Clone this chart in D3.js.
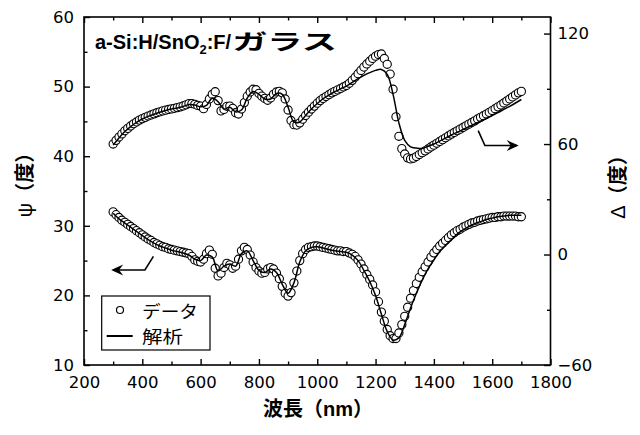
<!DOCTYPE html>
<html><head><meta charset="utf-8">
<script src="https://cdn.jsdelivr.net/npm/d3@7"></script>
<style>
html,body{margin:0;padding:0;background:#fff;}
svg{display:block;}
</style></head>
<body>
<svg id="chart" width="640" height="435"></svg>
<script>
// ---------- data ----------
const wavelength = [300,310,320,330,340,350,360,370,380,390,400,410,420,430,440,450,460,470,480,490,
500,510,520,530,540,550,560,570,580,590,600,610,620,630,640,650,660,670,680,690,
700,710,720,730,740,750,760,770,780,790,800,810,820,830,840,850,860,870,880,890,
900,910,920,930,940,950,960,970,980,990,1000,1010,1020,1030,1040,1050,1060,1070,1080,1090,
1100,1110,1120,1130,1140,1150,1160,1170,1180,1190,1200,1210,1220,1230,1240,1250,1260,1270,1280,1290,
1300,1310,1320,1330,1340,1350,1360,1370,1380,1390,1400,1410,1420,1430,1440,1450,1460,1470,1480,1490,
1500,1510,1520,1530,1540,1550,1560,1570,1580,1590,1600,1610,1620,1630,1640,1650,1660,1670,1680,1690,1700];

const deltaData = [60.0,62.0,63.8,65.5,67.2,68.5,69.8,71.0,72.0,73.0,
73.8,74.5,75.2,75.8,76.4,77.0,77.5,78.0,78.4,78.8,
79.1,79.4,79.8,80.2,80.7,81.3,82.0,82.0,81.6,81.0,
80.6,79.2,81.5,84.5,87.0,88.4,83.6,78.0,78.8,80.5,
80.6,79.4,77.0,76.3,79.0,82.5,86.0,88.3,89.8,89.5,
87.5,86.0,84.8,83.8,85.0,87.0,88.3,88.6,87.8,84.5,
78.5,72.8,70.5,70.3,71.5,73.5,75.5,77.3,79.0,80.6,
82.2,83.6,84.8,85.8,86.8,87.8,88.6,89.4,90.2,91.0,
91.8,93.0,94.6,96.3,98.2,100.0,101.8,103.5,105.0,106.5,
107.7,108.6,108.9,106.5,103.3,98.0,89.8,74.8,64.2,57.5,
54.6,52.5,51.9,52.3,53.2,54.3,55.3,56.3,57.3,58.4,
59.4,60.4,61.4,62.4,63.4,64.4,65.4,66.3,67.2,68.1,
69.0,69.9,70.8,71.7,72.6,73.6,74.5,75.4,76.3,77.2,
78.2,79.2,80.2,81.2,82.3,83.4,84.5,85.6,86.7,87.8,
88.6];

const psiData = [32.0,31.6,31.2,30.8,30.5,30.2,29.9,29.6,29.3,29.0,
28.7,28.4,28.1,27.9,27.6,27.4,27.2,27.0,26.9,26.7,
26.6,26.5,26.4,26.3,26.2,26.1,26.0,25.6,25.1,24.9,
24.8,25.2,26.0,26.5,25.9,23.9,22.8,23.2,24.0,24.6,
24.4,23.9,24.2,25.2,26.4,26.9,26.6,25.8,24.8,24.0,
23.5,23.2,23.3,23.8,24.0,23.8,23.2,22.4,21.3,20.3,
19.9,20.4,21.8,23.5,25.0,26.0,26.6,26.9,27.0,27.1,
27.1,27.0,26.9,26.8,26.7,26.6,26.5,26.4,26.4,26.3,
26.3,26.1,25.9,25.6,25.1,24.5,23.8,23.0,22.3,21.5,
20.5,19.1,17.6,16.3,15.1,14.2,13.8,13.8,14.6,15.8,
17.0,18.3,19.6,20.7,21.7,22.6,23.4,24.1,24.8,25.5,
26.1,26.6,27.1,27.5,27.9,28.3,28.7,29.0,29.3,29.5,
29.8,30.0,30.2,30.4,30.5,30.7,30.8,30.9,31.0,31.1,
31.2,31.2,31.3,31.3,31.4,31.4,31.4,31.4,31.4,31.3,
31.3];

const fitWavelength = [300,320,340,360,380,400,420,440,460,480,500,520,540,560,580,
600,620,640,660,680,700,720,740,760,780,800,820,840,860,880,
900,920,940,960,980,1000,1020,1040,1060,1080,1100,1120,1140,1160,1180,
1200,1220,1240,1260,1280,1300,1320,1340,1360,1380,1400,1420,1440,1460,1480,
1500,1520,1540,1560,1580,1600,1620,1640,1660,1680,1700];

const deltaFit = [59.5,63.3,66.8,69.5,71.8,73.6,75.0,76.2,77.3,78.2,79.0,79.6,80.4,81.5,81.2,
80.2,81.0,85.0,83.0,79.0,80.0,77.5,78.5,85.0,88.5,87.0,84.5,84.5,87.5,87.0,
80.0,72.0,72.0,75.5,79.0,82.0,84.6,86.6,88.4,90.0,91.5,93.5,95.5,97.3,98.8,
100.0,100.5,97.8,87.0,71.5,62.0,58.5,57.8,57.6,58.8,60.0,61.6,63.2,64.9,66.4,
67.9,69.4,70.9,72.4,73.9,75.5,77.1,78.8,80.5,82.3,84.2];

const psiFit = [31.8,31.0,30.4,29.8,29.2,28.6,28.0,27.5,27.1,26.8,26.5,26.3,26.1,25.8,25.2,
25.0,25.8,25.5,23.5,24.2,24.5,24.2,26.0,26.4,25.0,23.6,23.3,23.8,23.3,21.6,
20.3,21.8,24.8,26.4,26.9,27.0,26.8,26.6,26.4,26.3,26.2,25.8,25.0,23.6,22.0,
20.0,17.3,14.8,13.6,13.9,15.8,18.2,20.3,22.2,23.8,25.1,26.3,27.2,28.0,28.8,
29.4,29.9,30.3,30.6,30.9,31.1,31.3,31.4,31.5,31.5,31.5];

const xTicks = [200,400,600,800,1000,1200,1400,1600,1800];
const xMinorTicks = [300,500,700,900,1100,1300,1500,1700];
const psiTicks = [10,20,30,40,50,60];
const psiMinorTicks = [15,25,35,45,55];
const deltaTicks = [-60,0,60,120];
const deltaMinorTicks = [-30,30,90];

const titleLatin = "a-Si:H/SnO";
const titleSub = "2";
const titleLatin2 = ":F/";
const titleKana = "ガラス";
const legendLabels = ["データ", "解析"];
const xTitle = "波長（nm）";
const psiGreek = "ψ", deltaGreek = "Δ", unitTitle = "（度）";

// annotation arrows (in data coordinates)
const deltaArrow = [[1552,67.3],[1575,59.2],[1684,59.2]];
const psiArrow = [[438,25.6],[409,23.65],[300,23.65]];

// ---------- drawing ----------
const svg = d3.select("#chart");
const L = 84, R = 550.5, T = 17, B = 365;
const x = d3.scaleLinear().domain([200,1800]).range([L,R]);
const yL = d3.scaleLinear().domain([10,60]).range([B,T]);
const yR = d3.scaleLinear().domain([-60,129]).range([B,T]);

const tickFont = "'DejaVu Sans', sans-serif";
function styleAxis(g){
  g.select(".domain").remove();
  g.selectAll(".tick line").attr("stroke","#000").attr("stroke-width",1.4);
  g.selectAll(".tick text").attr("font-family",tickFont).attr("font-size","16.5px").attr("fill","#000");
}
// bottom
svg.append("g").attr("transform",`translate(0,${B})`)
  .call(d3.axisBottom(x).tickValues(xTicks).tickSizeInner(-6).tickSizeOuter(0).tickPadding(11).tickFormat(d3.format("d")))
  .call(styleAxis);
svg.append("g").attr("transform",`translate(0,${B})`)
  .call(d3.axisBottom(x).tickValues(xMinorTicks).tickSizeInner(-3.5).tickSizeOuter(0).tickFormat(""))
  .call(styleAxis);
// top
svg.append("g").attr("transform",`translate(0,${T})`)
  .call(d3.axisTop(x).tickValues(xTicks).tickSizeInner(-6).tickSizeOuter(0).tickFormat(""))
  .call(styleAxis);
svg.append("g").attr("transform",`translate(0,${T})`)
  .call(d3.axisTop(x).tickValues(xMinorTicks).tickSizeInner(-3.5).tickSizeOuter(0).tickFormat(""))
  .call(styleAxis);
// left
svg.append("g").attr("transform",`translate(${L},0)`)
  .call(d3.axisLeft(yL).tickValues(psiTicks).tickSizeInner(-6).tickSizeOuter(0).tickPadding(10).tickFormat(d3.format("d")))
  .call(styleAxis);
svg.append("g").attr("transform",`translate(${L},0)`)
  .call(d3.axisLeft(yL).tickValues(psiMinorTicks).tickSizeInner(-3.5).tickSizeOuter(0).tickFormat(""))
  .call(styleAxis);
// right
svg.append("g").attr("transform",`translate(${R},0)`)
  .call(d3.axisRight(yR).tickValues(deltaTicks).tickSizeInner(-6.5).tickSizeOuter(0).tickPadding(7).tickFormat(d3.format("d")))
  .call(styleAxis);
svg.append("g").attr("transform",`translate(${R},0)`)
  .call(d3.axisRight(yR).tickValues(deltaMinorTicks).tickSizeInner(-3.5).tickSizeOuter(0).tickFormat(""))
  .call(styleAxis);

// frame
svg.append("rect").attr("x",L).attr("y",T).attr("width",R-L).attr("height",B-T)
  .attr("fill","none").attr("stroke","#000").attr("stroke-width",1.6);

// data circles
const plot = svg.append("g");
function drawCircles(vals, ys){
  plot.append("g").selectAll("circle").data(wavelength.map((w,i)=>[w,vals[i]])).join("circle")
    .attr("cx",d=>x(d[0])).attr("cy",d=>ys(d[1])).attr("r",4.1)
    .attr("fill","#fff").attr("stroke","#000").attr("stroke-width",1.1);
}
drawCircles(deltaData, yR);
drawCircles(psiData, yL);

// fit lines
function drawLine(vals, ys){
  const line = d3.line().x(d=>x(d[0])).y(d=>ys(d[1])).curve(d3.curveCatmullRom.alpha(0.5));
  plot.append("path").datum(fitWavelength.map((w,i)=>[w,vals[i]]))
    .attr("d",line).attr("fill","none").attr("stroke","#000").attr("stroke-width",1.5);
}
drawLine(deltaFit, yR);
drawLine(psiFit, yL);

// arrows
function drawArrow(pts, ys){
  const p = pts.map(d=>[x(d[0]), ys(d[1])]);
  svg.append("path").attr("d",d3.line()(p)).attr("fill","none").attr("stroke","#000").attr("stroke-width",1.6);
  const [ax,ay] = p[p.length-1];
  const [bx] = p[p.length-2];
  const dir = Math.sign(ax-bx);
  const tipX = ax + dir*2;
  svg.append("path")
    .attr("d",`M${tipX},${ay} L${tipX-dir*12},${ay-5.5} L${tipX-dir*8},${ay} L${tipX-dir*12},${ay+5.5} Z`)
    .attr("fill","#000");
}
drawArrow(deltaArrow, yR);
drawArrow(psiArrow, yL);

// title
const latin = "'Liberation Sans', Arial, sans-serif";
const cjk = "'Noto Sans CJK JP', sans-serif";
const t = svg.append("text").attr("x",95).attr("y",49).attr("font-family",latin)
  .attr("font-weight","bold").attr("font-size","20px").attr("fill","#000");
t.append("tspan").text(titleLatin);
t.append("tspan").attr("dy",5).attr("font-size","13px").text(titleSub);
t.append("tspan").attr("dy",-5).text(titleLatin2);
const latinEnd = 95 + t.node().getComputedTextLength();
const kx = Math.max(latinEnd + 1, 230);
const kana = svg.append("text").attr("x",0).attr("y",0).attr("font-family",cjk).attr("font-weight","bold")
  .attr("font-size","21px").text(titleKana);
const kw = kana.node().getComputedTextLength() || 63;
kana.attr("transform",`translate(${kx},49) scale(${(337-kx)/kw},1)`);

// legend
const lg = svg.append("g");
lg.append("rect").attr("x",101.7).attr("y",296).attr("width",108.3).attr("height",54)
  .attr("fill","#fff").attr("stroke","#000").attr("stroke-width",1.2);
lg.append("circle").attr("cx",120).attr("cy",310).attr("r",3.5).attr("fill","#fff").attr("stroke","#000").attr("stroke-width",1.2);
lg.append("line").attr("x1",106.7).attr("x2",132.7).attr("y1",336).attr("y2",336).attr("stroke","#000").attr("stroke-width",2);
lg.append("text").attr("x",142).attr("y",318).attr("font-family",cjk).attr("font-size","17px")
  .attr("textLength",56).attr("lengthAdjust","spacingAndGlyphs").text(legendLabels[0]);
lg.append("text").attr("x",142).attr("y",343).attr("font-family",cjk).attr("font-size","17px")
  .attr("textLength",41).attr("lengthAdjust","spacingAndGlyphs").text(legendLabels[1]);

// axis titles
const titleFont = "'Liberation Sans', 'Noto Sans CJK JP', sans-serif";
svg.append("text").attr("x",318).attr("y",416).attr("text-anchor","middle")
  .attr("font-family",titleFont).attr("font-weight","bold").attr("font-size","20px").text(xTitle);
function yTitle(tx, ty, greek){
  const tt = svg.append("text").attr("transform",`translate(${tx},${ty}) rotate(-90)`).attr("text-anchor","middle")
    .attr("dominant-baseline","central")
    .attr("font-family",titleFont).attr("font-size","20px");
  tt.append("tspan").attr("font-weight","normal").text(greek);
  tt.append("tspan").attr("font-weight","bold").text(unitTitle);
}
yTitle(25,180,psiGreek);
yTitle(618,182,deltaGreek);
</script>
</body></html>
